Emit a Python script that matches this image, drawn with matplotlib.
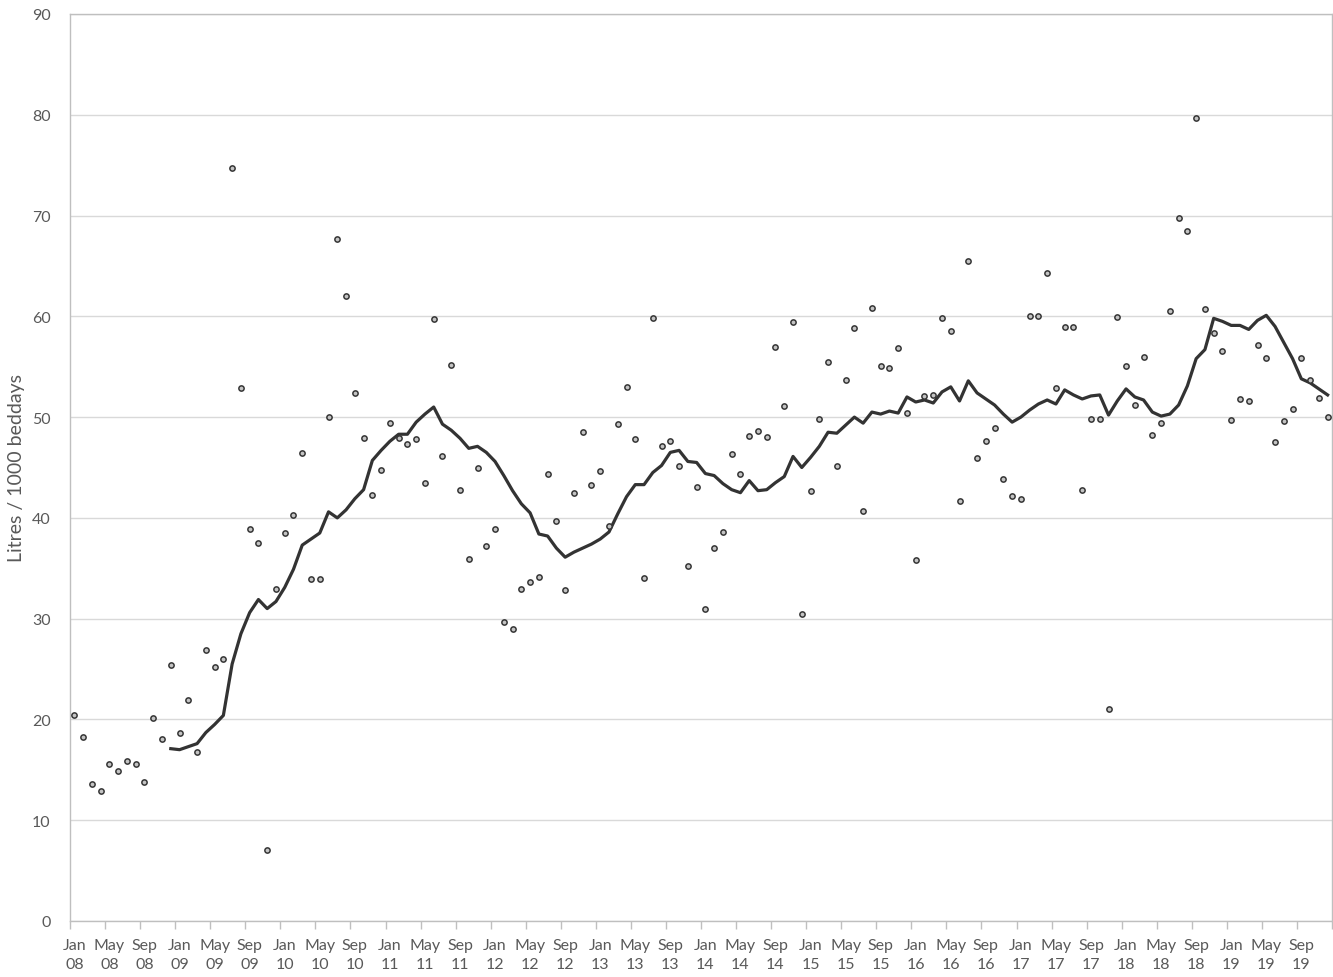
import numpy as np
import matplotlib
matplotlib.use("Agg")
import matplotlib.pyplot as plt

# monthly values, Jan 08 .. Dec 19
months = ["Jan", "Feb", "Mar", "Apr", "May", "Jun",
          "Jul", "Aug", "Sep", "Oct", "Nov", "Dec"]
years = ["08", "09", "10", "11", "12", "13", "14", "15", "16", "17", "18", "19"]

monthly = [20.4, 18.3, 13.6, 12.9, 15.6, 14.9, 15.9, 15.6, 13.8, 20.1, 18.1, 25.4,
           18.7, 21.9, 16.8, 26.9, 25.2, 26.0, 74.7, 52.9, 38.9, 37.5, 7.0, 32.9,
           38.5, 40.3, 46.4, 33.9, 33.9, 50.0, 67.7, 62.0, 52.4, 47.9, 42.3, 44.8,
           49.4, 47.9, 47.3, 47.8, 43.5, 59.7, 46.1, 55.2, 42.8, 35.9, 45.0, 37.2,
           38.9, 29.7, 29.0, 32.9, 33.6, 34.1, 44.4, 39.7, 32.8, 42.5, 48.5, 43.3,
           44.7, 39.2, 49.3, 53.0, 47.8, 34.0, 59.8, 47.1, 47.6, 45.1, 35.2, 43.1,
           31.0, 37.0, 38.6, 46.3, 44.4, 48.1, 48.6, 48.0, 57.0, 51.1, 59.4, 30.5,
           42.7, 49.8, 55.5, 45.1, 53.7, 58.8, 40.7, 60.8, 55.1, 54.9, 56.9, 50.4,
           35.8, 52.1, 52.2, 59.8, 58.5, 41.7, 65.5, 45.9, 47.6, 48.9, 43.9, 42.2,
           41.9, 60.0, 60.0, 64.3, 52.9, 58.9, 58.9, 42.8, 49.8, 49.8, 21.0, 59.9,
           55.1, 51.2, 56.0, 48.2, 49.4, 60.5, 69.8, 68.5, 79.7, 60.7, 58.3, 56.6,
           49.7, 51.8, 51.6, 57.2, 55.9, 47.5, 49.6, 50.8, 55.9, 53.7, 51.9, 50.0]

# 12 month rolling line, starts Dec 08
rolling = [np.nan] * 11 + [
    17.1, 17.0, 17.3, 17.6, 18.7, 19.5, 20.4, 25.5, 28.5, 30.6, 31.9, 31.0, 31.7,
    33.1, 34.9, 37.3, 37.9, 38.5, 40.6, 40.0, 40.8, 41.9, 42.8, 45.7, 46.7,
    47.6, 48.3, 48.3, 49.5, 50.3, 51.0, 49.3, 48.7, 47.9, 46.9, 47.1, 46.5,
    45.6, 44.2, 42.7, 41.4, 40.5, 38.4, 38.2, 37.0, 36.1, 36.6, 37.0, 37.4,
    37.9, 38.6, 40.4, 42.1, 43.3, 43.3, 44.5, 45.2, 46.5, 46.7, 45.6, 45.5,
    44.4, 44.2, 43.4, 42.8, 42.5, 43.7, 42.7, 42.8, 43.5, 44.1, 46.1, 45.0,
    46.0, 47.1, 48.5, 48.4, 49.2, 50.0, 49.4, 50.5, 50.3, 50.6, 50.4, 52.0,
    51.5, 51.7, 51.4, 52.5, 53.0, 51.6, 53.6, 52.4, 51.8, 51.2, 50.3, 49.5,
    50.0, 50.7, 51.3, 51.7, 51.3, 52.7, 52.2, 51.8, 52.1, 52.2, 50.2, 51.6,
    52.8, 52.0, 51.7, 50.5, 50.1, 50.3, 51.2, 53.1, 55.8, 56.7, 59.8, 59.5,
    59.1, 59.1, 58.7, 59.6, 60.1, 59.0, 57.4, 55.8, 53.8, 53.4, 52.8, 52.2]

n = len(monthly)
x = np.arange(n)
labels = [f"{months[i % 12]}\n{years[i // 12]}" for i in range(0, n, 4)]

plt.rcParams['font.family'] = ['Lato', 'DejaVu Sans']

fig = plt.figure(figsize=(13.33, 9.78), dpi=100)
ax = fig.add_axes([70 / 1333, 56 / 978, 1262 / 1333, 907 / 978])

# Plotting the graph
ax.plot(x, rolling, color='#333333', linewidth=2.3, zorder=3)
ax.plot(x, monthly, linestyle='none', marker='o', markersize=3.8,
        markerfacecolor='#c4c4c4', markeredgecolor='#363636',
        markeredgewidth=1.1, zorder=4)

ax.set_xlim(-0.5, n - 0.5)
ax.set_ylim(0, 90)
ax.set_yticks(np.arange(0, 91, 10))
ax.grid(axis='y', color='#d9d9d9', linewidth=1.0)
ax.set_axisbelow(True)

# tick marks at category borders, labels in the middle
ax.set_xticks(np.arange(-0.5, n, 4))
ax.set_xticklabels([])
ax.tick_params(axis='x', which='major', length=6, color='#bfbfbf', width=1)
ax.set_xticks(np.arange(0, n, 4), minor=True)
ax.set_xticklabels(labels, minor=True, fontsize=11.5, color='#595959',
                   linespacing=1.45)
ax.tick_params(axis='x', which='minor', length=0, pad=12)

ax.tick_params(axis='y', length=0, pad=14, labelsize=11.5, labelcolor='#595959')
ax.set_ylabel("Litres / 1000 beddays", fontsize=14, color='#595959',
              labelpad=5)

for s in ax.spines.values():
    s.set_color('#bfbfbf')
    s.set_linewidth(1.0)

fig.savefig("out.png", dpi=100)
